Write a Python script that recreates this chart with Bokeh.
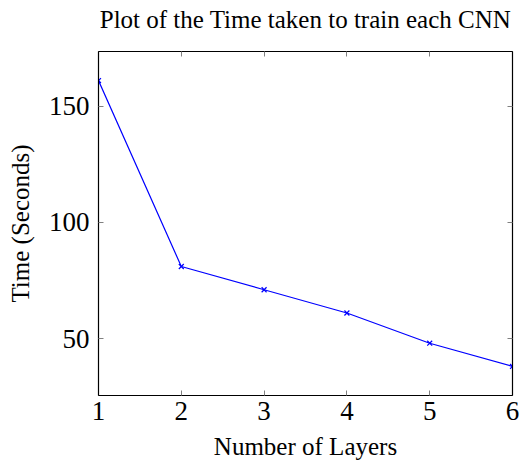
from bokeh.plotting import figure
from bokeh.models import LinearAxis, FixedTicker, Range1d
from bokeh.embed import file_html
from bokeh.resources import INLINE

layers = [1, 2, 3, 4, 5, 6]
times = [161, 81, 71, 61, 48, 38]
x_ticks = [1, 2, 3, 4, 5, 6]
y_ticks = [50, 100, 150]
title_text = "Plot of the Time taken to train each CNN"

FONT = "Liberation Serif"

p = figure(width=520, height=466, output_backend="svg", toolbar_location=None,
           x_range=Range1d(1, 6), y_range=Range1d(25.5, 173.5),
           min_border_left=98, min_border_right=8, min_border_top=51, min_border_bottom=71)

p.xgrid.visible = False
p.ygrid.visible = False
p.outline_line_color = "black"
p.outline_line_width = 1.2

for ax in (p.xaxis[0], p.yaxis[0]):
    ax.major_tick_in = 5
    ax.major_tick_out = 0
    ax.minor_tick_line_color = None
    ax.major_tick_line_color = "#808080"
    ax.axis_line_color = "black"
    ax.major_label_text_font = FONT
    ax.major_label_text_font_size = "27px"
    ax.major_label_text_color = "black"
    ax.axis_label_text_font = FONT
    ax.axis_label_text_font_size = "25px"
    ax.axis_label_text_font_style = "normal"
    ax.axis_label_text_color = "black"

p.xaxis[0].ticker = FixedTicker(ticks=x_ticks)
p.yaxis[0].ticker = FixedTicker(ticks=y_ticks)
p.xaxis[0].axis_label = "Number of Layers"
p.yaxis[0].axis_label = "Time (Seconds)"
p.xaxis[0].major_label_standoff = 6
p.yaxis[0].major_label_standoff = 9
p.xaxis[0].axis_label_standoff = 10
p.yaxis[0].axis_label_standoff = 12

# top axis: mirrored ticks, carries the chart title as its label
top = LinearAxis(ticker=FixedTicker(ticks=x_ticks), major_label_text_color=None,
                 major_label_standoff=0,
                 major_tick_in=5, major_tick_out=0, minor_tick_line_color=None,
                 major_tick_line_color="#808080", axis_line_color="black",
                 axis_label=title_text, axis_label_text_font=FONT,
                 axis_label_text_font_size="25px", axis_label_text_font_style="normal",
                 axis_label_text_color="black", axis_label_standoff=19)
right = LinearAxis(ticker=FixedTicker(ticks=y_ticks), major_label_text_color=None,
                   major_tick_in=5, major_tick_out=0, minor_tick_line_color=None,
                   major_tick_line_color="#808080", axis_line_color="black")
p.add_layout(top, "above")
p.add_layout(right, "right")

p.line(layers, times, line_color="blue", line_width=1.2)
p.scatter(layers, times, marker="x", size=7, line_color="blue", line_width=1.2)

open("out.html", "w").write(file_html(p, INLINE))
